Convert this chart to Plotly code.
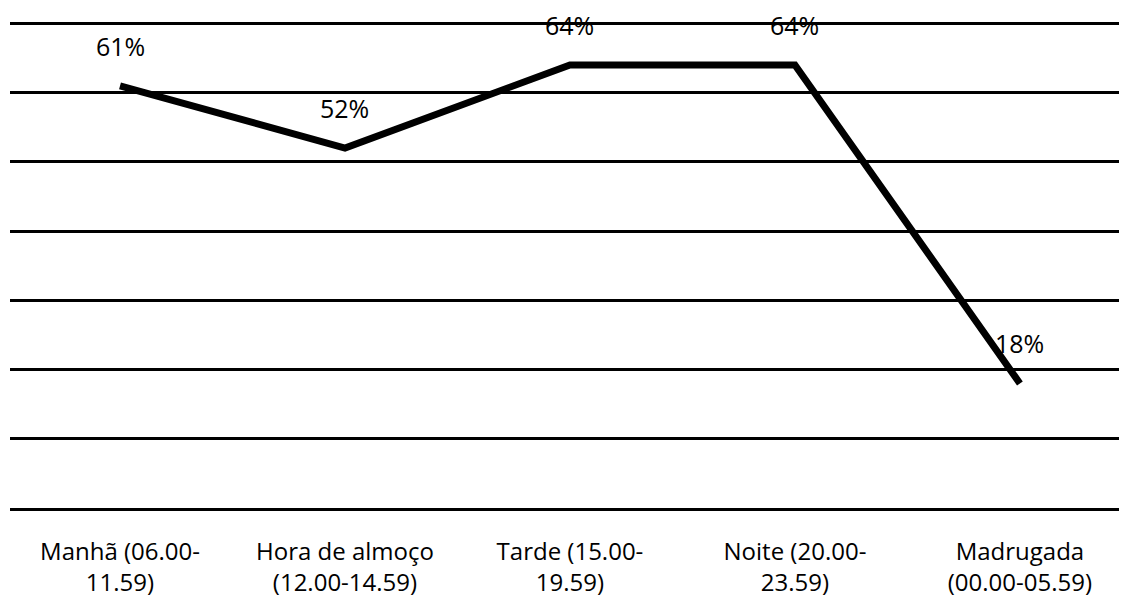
import plotly.graph_objects as go

categories = ["Manhã (06.00-<br>11.59)", "Hora de almoço<br>(12.00-14.59)",
              "Tarde (15.00-<br>19.59)", "Noite (20.00-<br>23.59)",
              "Madrugada<br>(00.00-05.59)"]
values = [61, 52, 64, 64, 18]
labels = ["61%", "52%", "64%", "64%", "18%"]

FONT = "Open Sans, Liberation Sans, Arial"

fig = go.Figure()
fig.add_trace(go.Scatter(
    x=categories, y=values, mode="lines",
    line=dict(color="black", width=7), hoverinfo="skip"))

for c, v, t in zip(categories, values, labels):
    fig.add_annotation(x=c, y=v, text=t, showarrow=False, yshift=40,
                       font=dict(family=FONT, size=25, color="black"))

fig.update_layout(
    width=1119, height=591,
    margin=dict(l=2, r=0, t=12, b=91),
    paper_bgcolor="white", plot_bgcolor="white",
    showlegend=False,
    font=dict(family=FONT, size=24, color="black"),
)
fig.update_xaxes(showgrid=False, showline=True, linecolor="black", linewidth=3,
                 ticks="", tickfont=dict(family=FONT, size=24, color="black"),
                 range=[-0.489, 4.476], automargin=False, ticklabelstandoff=20)
fig.update_yaxes(range=[0, 70.5], dtick=10, showgrid=True, gridcolor="black",
                 gridwidth=3, showticklabels=False, zeroline=False,
                 automargin=False)

fig.write_html("out.html")
